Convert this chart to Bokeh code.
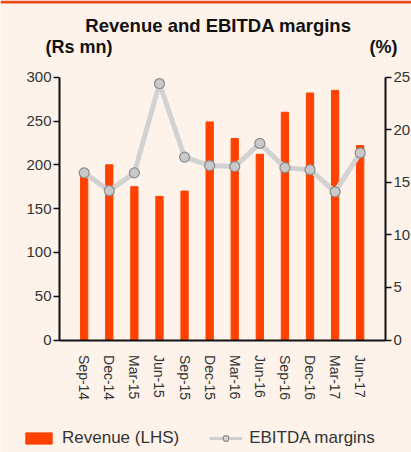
from bokeh.plotting import figure
from bokeh.models import (Range1d, LinearAxis, FixedTicker, Legend, LegendItem,
                          Label, BoxAnnotation, ColumnDataSource)
from bokeh.embed import file_html
from bokeh.resources import INLINE

# data
quarters = ["Sep-14", "Dec-14", "Mar-15", "Jun-15", "Sep-15", "Dec-15",
            "Mar-16", "Jun-16", "Sep-16", "Dec-16", "Mar-17", "Jun-17"]
revenue = [195, 200, 175, 164, 170, 249, 230, 212, 260, 282, 285, 222]
ebitda_margin = [15.9, 14.2, 15.9, 24.4, 17.4, 16.6, 16.5, 18.7, 16.4, 16.2, 14.1, 17.8]
left_ticks = [0, 50, 100, 150, 200, 250, 300]
right_ticks = [0, 5, 10, 15, 20, 25]

BG = "#fdf3ea"
BAR = "#ff4200"
FONT = "Liberation Sans"

# the frame covers the whole canvas; axes sit at fixed spots inside it
X0, X1 = -0.984, 12.01        # ends of the category axis
Y_LO, Y_HI = -128.4, 387.6    # visible revenue span (axis runs 0-300)
idx = list(range(len(quarters)))
src = ColumnDataSource(data=dict(x=idx, rev=revenue, m=ebitda_margin))

p = figure(width=411, height=452, output_backend="svg", toolbar_location=None,
           x_range=Range1d(-3.336, 13.045), y_range=Range1d(Y_LO, Y_HI),
           min_border=0, min_border_left=0, min_border_right=0,
           min_border_top=0, min_border_bottom=0, tools="")
p.background_fill_color = BG
p.border_fill_color = BG
p.outline_line_color = None
p.grid.visible = False
p.extra_y_ranges = {"pct": Range1d(Y_LO / 12, Y_HI / 12)}

# thin orange rule along the top edge
p.add_layout(BoxAnnotation(bottom=Y_HI - 3 / 0.876, top=Y_HI, fill_color="#ec4a1c",
                           fill_alpha=1, line_color=None))

bars = p.vbar(x="x", top="rev", width=0.29, color=BAR, source=src)
p.line(x="x", y="m", line_color="#d2d2d2", line_width=5,
       y_range_name="pct", source=src)
p.scatter(x="x", y="m", size=10, fill_color="#c9c9c9",
          line_color="#8c8c8c", line_width=1.2, y_range_name="pct", source=src)

# legend-only glyphs (thinner, like the original key)
nan = float("nan")
key_ln = p.line(x=[nan], y=[nan], line_color="#cfcfcf", line_width=3)
key_pt = p.scatter(x=[nan], y=[nan], size=7, fill_color="#d6d6d6",
                   line_color="#8c8c8c", line_width=1.2)

# axes
xa = p.xaxis[0]
xa.fixed_location = 0
xa.bounds = (X0, X1)
xa.ticker = FixedTicker(ticks=idx)
xa.major_label_overrides = {i: q for i, q in zip(idx, quarters)}
xa.major_label_orientation = "vertical"
xa.major_tick_line_color = None
xa.minor_tick_line_color = None
xa.major_label_standoff = 9
xa.major_label_text_font_size = "14px"

ya = p.yaxis[0]
ya.fixed_location = X0
ya.bounds = (0, 300)
ya.ticker = FixedTicker(ticks=left_ticks)

right = LinearAxis(y_range_name="pct", ticker=FixedTicker(ticks=right_ticks),
                   fixed_location=X1, bounds=(0, 25))
p.add_layout(right, "right")

for ax in [ya, right]:
    ax.minor_tick_line_color = None
    ax.major_tick_in = 0
    ax.major_tick_out = 6
    ax.major_tick_line_color = "#111111"
    ax.major_tick_line_width = 1.5
    ax.major_label_standoff = 2
    ax.major_label_text_font_size = "15px"

for ax in [xa, ya, right]:
    ax.axis_line_color = "#111111"
    ax.axis_line_width = 2
    ax.major_label_text_font = FONT
    ax.major_label_text_color = "#333333"

# titles (screen units: from left edge, up from bottom edge)
title_kw = dict(x_units="screen", y_units="screen", text_font=FONT,
                text_font_style="bold", text_color="#111111",
                text_baseline="alphabetic")
p.add_layout(Label(x=218, y=427, text="Revenue and EBITDA margins",
                   text_align="center", text_font_size="18.5px", **title_kw))
p.add_layout(Label(x=45, y=406, text="(Rs mn)", text_font_size="18px", **title_kw))
p.add_layout(Label(x=397, y=406, text="(%)", text_align="right",
                   text_font_size="18px", **title_kw))

legend = Legend(items=[LegendItem(label="Revenue (LHS)", renderers=[bars]),
                       LegendItem(label="EBITDA margins", renderers=[key_ln, key_pt])],
                location=(22, 4), orientation="horizontal",
                glyph_width=33, glyph_height=14, label_standoff=7, spacing=30,
                padding=0, margin=0, border_line_color=None,
                background_fill_alpha=0, label_text_font=FONT,
                label_text_font_size="17px", label_text_color="#333333")
p.add_layout(legend, "center")

open("out.html", "w").write(file_html(p, INLINE))
